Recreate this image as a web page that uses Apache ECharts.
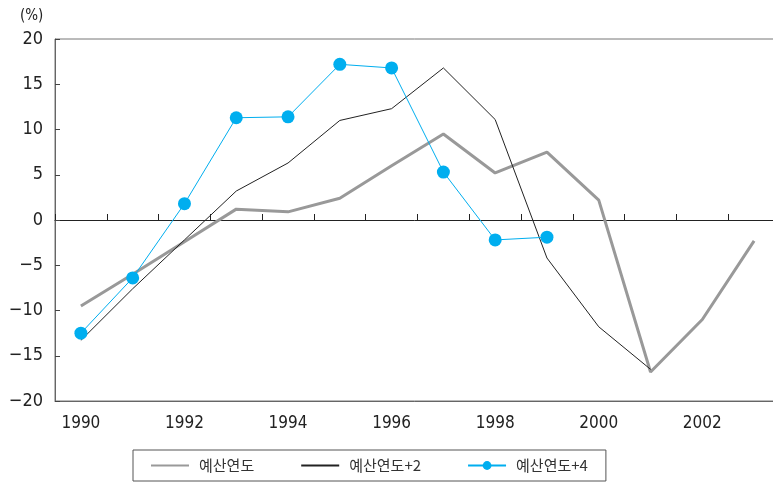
<!DOCTYPE html>
<html><head><meta charset="utf-8">
<script src="https://cdn.jsdelivr.net/npm/echarts@6/dist/echarts.min.js"></script>
<style>html,body{margin:0;padding:0;background:#fff}#c{width:773px;height:483px}</style>
</head><body><div id="c"></div>
<script>
const years = ['1990','1991','1992','1993','1994','1995','1996','1997','1998','1999','2000','2001','2002','2003'];
const seriesNames = ['예산연도', '예산연도+2', '예산연도+4'];
const budgetYear = [-9.5, -6.0, -2.4, 1.2, 0.9, 2.4, 6.0, 9.5, 5.2, 7.5, 2.2, -16.8, -11.0, -2.3];
const budgetYear2 = [-13.3, -7.6, -2.2, 3.2, 6.3, 11.0, 12.3, 16.8, 11.1, -4.2, -11.8, -16.5, null, null];
const budgetYear4 = [-12.5, -6.4, 1.8, 11.3, 11.4, 17.2, 16.8, 5.3, -2.2, -1.9, null, null, null, null];
const yTicks = { min: -20, max: 20, step: 5 };

const numFont = '"Liberation Sans Narrow", "DejaVu Sans Condensed", "Liberation Sans", sans-serif';
const chart = echarts.init(document.getElementById('c'), null, { renderer: 'canvas' });
chart.setOption({
  animation: false,
  backgroundColor: '#fff',
  grid: { left: 55, top: 39, bottom: 82, width: 725, outerBoundsMode: 'none', show: true, borderColor: '#777', borderWidth: 1, containLabel: false },
  graphic: [{ type: 'text', left: 20, top: 9, style: { text: '(%)', font: '15px ' + numFont, fill: '#222' } }],
  legend: {
    left: 133, top: 450, width: 469,
    padding: [8, 18, 8, 17],
    borderColor: '#555', borderWidth: 1,
    itemWidth: 38, itemHeight: 11, itemGap: 46,
    textStyle: { fontFamily: '"Noto Sans CJK KR", sans-serif', fontSize: 15, color: '#333', padding: [0, 0, 0, 5] },
    data: [
      { name: seriesNames[0], itemStyle: { opacity: 0 } },
      { name: seriesNames[1], itemStyle: { opacity: 0 } },
      { name: seriesNames[2] }
    ]
  },
  xAxis: [{
    type: 'category', data: years, position: 'bottom', boundaryGap: true,
    axisLine: { onZero: false, lineStyle: { color: '#666', width: 1 } },
    axisTick: { show: false },
    axisLabel: { interval: 1, margin: 14, fontFamily: numFont, fontSize: 17, color: '#222' },
    splitLine: { show: false }
  }, {
    type: 'category', data: years, position: 'top', offset: -181, boundaryGap: true,
    axisLine: { onZero: false, lineStyle: { color: '#222', width: 1 } },
    axisTick: { show: true, inside: false, length: 6, interval: 0, lineStyle: { color: '#222' } },
    axisLabel: { show: false },
    splitLine: { show: false }
  }],
  yAxis: {
    type: 'value', min: yTicks.min, max: yTicks.max, interval: yTicks.step,
    axisLine: { show: true, lineStyle: { color: '#666' } },
    axisTick: { show: true, inside: true, length: 5, lineStyle: { color: '#444' } },
    axisLabel: { margin: 12, fontFamily: numFont, fontSize: 18, color: '#222', formatter: v => String(v).replace('-', '\u2212') },
    splitLine: { show: false }
  },
  series: [{
    name: seriesNames[0], type: 'line', data: budgetYear, symbol: 'none',
    lineStyle: { color: '#999', width: 3 }, itemStyle: { color: '#999' }, z: 2
  }, {
    name: seriesNames[1], type: 'line', data: budgetYear2, symbol: 'none',
    lineStyle: { color: '#222', width: 1 }, itemStyle: { color: '#222' }, z: 3
  }, {
    name: seriesNames[2], type: 'line', data: budgetYear4, symbol: 'circle', symbolSize: 13,
    lineStyle: { color: '#00AEEF', width: 1 }, itemStyle: { color: '#00AEEF' }, z: 4
  }]
});
</script></body></html>
